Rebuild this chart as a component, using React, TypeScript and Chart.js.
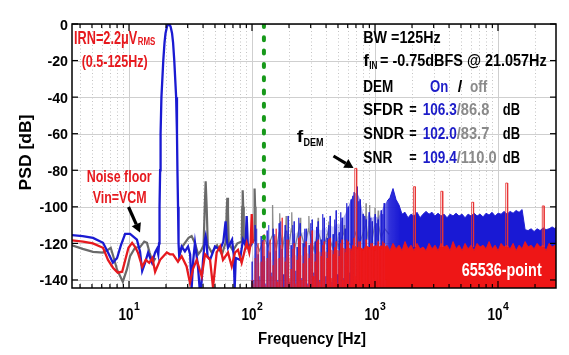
import React, { useEffect, useRef } from 'react';
import { Chart, registerables } from 'chart.js';

Chart.register(...registerables);

// ---------- axes ----------
const X_MIN = 3.44;
const X_MAX = 29620;
const Y_MIN = -144.4;
const Y_MAX = 0;

const yTickValues = [0, -20, -40, -60, -80, -100, -120, -140];
const xDecadeValues = [10, 100, 1000, 10000];
const xDecadeExponents = ['1', '2', '3', '4'];
const xMinorValues = [4, 5, 6, 7, 8, 9, 20, 30, 40, 50, 60, 70, 80, 90, 200, 300, 400, 500, 600, 700, 800, 900,
  2000, 3000, 4000, 5000, 6000, 7000, 8000, 9000, 20000];

// ---------- bandwidth marker ----------
const bandwidthHz = 125;
const bandwidthTopDb = 0;
const bandwidthBottomDb = -117;

// ---------- DEM on (blue), low-frequency trace incl. signal tone ----------
const blueLow: [number, number | null][] = [
  [3.44, -115.5], [4.2, -116], [5.1, -117], [6.15, -119.7], [6.75, -125], [7.4, -130.6], [8.0, -128], [8.6, -121],
  [9.3, -114.8], [10.2, -114.8], [11.6, -118], [12.3, -124.6], [12.8, -135], [13.5, -130.6], [14.3, -125],
  [15.4, -130.6], [16.3, -125], [16.9, -123], [17.3, -126], [17.55, -120], [17.71, -100], [17.91, -80],
  [18.06, -60], [18.35, -40], [19.0, -20], [19.45, -10], [19.82, -5], [20.35, -1.5], [20.72, -0.4], [21.06, 0],
  [21.4, -0.4], [21.79, -1.5], [22.38, -5], [22.81, -10], [23.34, -20], [24.17, -40], [24.55, -60], [24.76, -80],
  [25.04, -100], [25.28, -120], [25.6, -127], [26.8, -121.7], [28.5, -124.4], [30.2, -121.7], [31.4, -126],
  [32.3, -144.4], [33.3, -129], [34.4, -119.7], [36.4, -132.8], [37.5, -144.4], [38.6, -144.4], [40.0, -129],
  [41.4, -118], [42.0, -116], [42.7, -119], [43.5, -127], [45.6, -129], [50, -121.7], [55, -123.5], [58.5, -119],
  [61.0, -108], [62.6, -119], [63.8, -122.4], [68.8, -118], [71.0, -126], [72.3, -144.4], [73.8, -128],
  [79.8, -129], [84.5, -118], [88.5, -121], [90.5, -105], [92.5, -121], [96.4, -121.7], [100, -120],
];

// ---------- DEM off (gray) ----------
const grayLine: [number, number | null][] = [
  [3.44, -121], [4.2, -123], [5.1, -124.6], [6.15, -125], [6.75, -123.5], [7.1, -122.4], [7.45, -127], [8.0, -134.4],
  [8.9, -141], [9.6, -134.4], [10.2, -127], [11.2, -122.4], [12.3, -122], [13.3, -119], [14.0, -119.7], [14.7, -125],
  [15.6, -130.6], [16.4, -128], [20, null], [25.5, -127], [27.0, -122], [28.5, -119.7], [30.5, -117], [32.3, -116],
  [34.4, -120], [36.5, -126], [38.5, -124], [40.4, -121], [41.3, -100], [42.0, -86], [42.8, -100], [43.7, -121],
  [47, -125], [52, -121], [57, -126], [61.4, -119], [62.2, -103], [63.0, -95], [63.8, -103], [64.7, -120],
  [70, -124], [76, -120], [82.5, -119], [83.3, -100], [84.0, -91], [84.8, -100], [85.7, -119], [92, -122],
  [99, -120], [104.0, -118], [104.6, -100], [105.3, -90], [106.0, -100], [106.8, -119], [115, -124], [126, -117],
  [135, -122], [145.5, -116], [147, -99], [148.5, -116], [158, -123], [166.5, -114], [168, -103.5], [169.5, -114],
  [178, -122], [188, -112], [189.5, -105], [191, -113], [200, -121], [209, -112], [210.5, -103], [212, -113],
  [222, -123], [245, -110], [247, -106], [249, -114], [270, -122], [288, -112], [290, -105], [292, -113],
  [320, -124], [343, -112], [345, -106], [347, -114], [380, -123], [418, -113], [420, -108], [422, -116],
  [450, -122], [480, -112], [500, -122], [558, -114], [562, -110], [566, -118], [640, -121], [700, -114],
  [760, -119], [840, -110], [845, -98], [850, -110], [880, -118], [898, -108], [903, -99], [908, -108],
  [940, -119], [995, -110], [1000, -100.5], [1005, -110], [1040, -118], [1055, -108], [1062, -102], [1070, -110],
  [1120, -117], [1200, -112], [1300, -115],
];
const grayThickUntilHz = 107;

// ---------- noise floor Vin=VCM (red), low-frequency trace ----------
const redLow: [number, number | null][] = [
  [3.44, -118.4], [4.23, -119], [5.09, -120], [6.15, -122.4], [6.75, -129], [7.41, -133.3], [8.1, -136],
  [8.8, -135.5], [9.9, -122.4], [10.6, -119.7], [11.2, -121.9], [11.8, -125], [12.8, -132.8], [13.7, -129],
  [14.6, -130.6], [15.5, -128], [16.3, -135.5], [17.9, -129], [20.3, -125], [21.5, -126], [22.8, -126],
  [25.0, -130], [26.8, -127], [29.4, -132.6], [31.3, -141.5], [33.1, -134], [35.5, -129], [39.0, -138],
  [41.5, -126], [45.6, -129], [48.2, -144], [51.6, -125], [55.0, -121.7], [58.1, -129], [63.8, -125],
  [68.4, -132.6], [72.8, -125], [76.9, -123.5], [82.4, -130.6], [90.5, -119.7], [95, -125], [97.5, -120],
  [99.5, -104], [101.5, -120],
];

// ---------- dense spectrum region (100 Hz .. 1.2 kHz) ----------
const midFreqs = [100, 105.8, 111.9, 118.4, 125.2, 132.5, 140.1, 148.2, 156.8, 165.9, 175.5, 185.6, 196.3, 207.7,
  219.7, 232.4, 245.8, 260, 275.1, 291, 307.8, 325.6, 344.4, 364.3, 385.4, 407.6, 431.2, 456.1, 482.5, 510.4,
  539.9, 571.1, 604.1, 639, 676, 715.1, 756.4, 800.1, 846.4, 895.3, 947.1, 1001.8, 1059.7, 1121, 1185.8];
// envelopes of the dense floor
const blueFloorMidDb = [-128, -125, -124, -122, -122, -121, -120, -119, -118, -118, -117, -116, -116, -115, -115,
  -114, -114, -114, -113, -114, -112, -113, -112, -113, -111, -112, -110, -111, -109, -110, -107, -104, -100, -96,
  -93, -92, -96, -104, -106, -104, -106, -105, -106, -103, -99];
const redFloorMidDb = [-140, -132, -130, -131, -129, -130, -128, -130, -128, -129, -127, -128, -127, -128, -126,
  -127, -126, -127, -125, -126, -125, -126, -124, -125, -124, -125, -123, -124, -123, -124, -122, -123, -122, -123,
  -121, -122, -122, -123, -121, -122, -122, -121, -122, -121, -122];
// individual spectral lines (tops)
const blueMidDb = [-130, -110, -126, -116, -127, -113, -125, -112, -124, -109, -123, -110, -105, -121, -108, -122,
  -109, -120, -112, -121, -107, -119, -108, -118, -106, -117, -105, -115, -102, -114, -106, -112, -100, -96, -92,
  -89, -96, -104, -107, -103, -108, -104, -107, -102, -98];
const redMidDb = [-140, -128, -120, -130, -115, -128, -118, -132, -112, -128, -106, -130, -118, -134, -120, -129,
  -116, -131, -119, -128, -113, -130, -118, -127, -119, -128, -117, -126, -119, -127, -118, -125, -119, -124, -117,
  -123, -119, -124, -118, -123, -120, -124, -119, -123, -120];
const midFreqs2 = [102.9, 108.8, 115.1, 121.8, 128.8, 136.3, 144.1, 152.5, 161.3, 170.6, 180.5, 190.9, 201.9, 213.6,
  226.0, 239.0, 252.8, 267.4, 282.9, 299.3, 316.6, 334.9, 354.2, 374.7, 396.4, 419.3, 443.6, 469.2, 496.3, 525.0,
  555.4, 587.5, 621.4, 657.4, 695.4, 735.6, 778.1, 823.1, 870.7, 921.1, 974.4, 1030.7, 1090.3, 1153.4, 1220.0];
const blueMid2Db = [-140, -112, -138, -118, -142, -110, -136, -115, -140, -108, -137, -113, -141, -110, -135, -106,
  -139, -112, -142, -109, -136, -111, -140, -104, -138, -110, -141, -107, -137, -103, -139, -98, -136, -94, -140,
  -97, -138, -105, -141, -106, -137, -109, -140, -104, -138];
const redMid2Db = [-142, -122, -140, -119, -143, -124, -138, -116, -141, -121, -144, -118, -139, -123, -142, -117,
  -140, -122, -143, -120, -138, -119, -141, -121, -144, -118, -139, -122, -142, -120, -140, -118, -143, -121, -138,
  -119, -141, -122, -144, -120, -139, -121, -142, -119, -140];

// ---------- dense spectrum region (1.25 kHz .. Nyquist) ----------
const highFreqs = [1252, 1324, 1401, 1482, 1568, 1658, 1754, 1856, 1963, 2076, 2196, 2323, 2458, 2600, 2750, 2909,
  3077, 3255, 3443, 3642, 3853, 4075, 4311, 4560, 4824, 5103, 5398, 5710, 6040, 6389, 6759, 7149, 7563, 8000, 8462,
  8952, 9469, 10016, 10595, 11208, 11856, 12541, 13266, 14033, 14845, 15703, 16611, 17571, 18587, 19662, 20799,
  22001, 23273, 24619, 26042, 27548, 29141, 29620];
const blueHighDb = [-97, -95, -90, -96, -99, -104, -103, -106, -104, -105, -103, -106, -104, -102.5, -104, -103,
  -105, -103.5, -105, -104, -106, -104, -105, -103.5, -105, -104, -106, -104, -105, -103.5, -105, -104, -105.5,
  -103.5, -104.5, -103, -105, -103.5, -104, -102.5, -104, -102.5, -103.5, -102, -103, -101.5, -112.5, -113, -112,
  -113.5, -112, -113, -111.5, -112.5, -112, -111, -112, -111];
const redHighDb = [-121, -124, -120, -123, -121, -124, -119, -123, -121, -124, -120, -123, -122, -124, -120, -123,
  -121, -124, -120, -122, -121, -124, -119, -123, -121, -124, -120, -123, -121, -124, -120, -122, -121, -123, -119,
  -123, -121, -124, -120, -122, -121, -123, -120, -124, -121, -123, -119, -122, -121, -123, -120, -122, -121, -124,
  -120, -122, -121, -122];

// ---------- isolated red tones ----------
const redSpikeFreqs = [697, 2090, 3490, 6220, 11770, 23330];
const redSpikeTopDb = [-79, -89, -91.5, -97.5, -87, -99.5];
const redSpikeBaseDb = -122;

// ---------- styling ----------
const FONT = "'Liberation Sans', Arial, Helvetica, sans-serif";
const RED = '#e6191e';
const BLUE = '#1a1ad2';
const GRAY = '#6a6a6a';
const TXT_BLUE = '#1c1cc8';
const TXT_GRAY = '#8a8a8a';
const HF_START = 1250;

const toPts = (arr: [number, number | null][]) => arr.map(([x, y]) => ({ x, y }));
const zipPts = (fs: number[], vs: number[]) => {
  const n = Math.min(fs.length, vs.length);
  const out: { x: number; y: number }[] = [];
  for (let i = 0; i < n; i++) out.push({ x: fs[i], y: vs[i] });
  return out;
};
const spikePts = (pairs: { x: number; y: number }[]) => {
  const sorted = pairs.slice().sort((a, b) => a.x - b.x);
  const out: { x: number; y: number }[] = [];
  for (const p of sorted) {
    out.push({ x: p.x / 1.007, y: Y_MIN }, { x: p.x, y: p.y }, { x: p.x * 1.007, y: Y_MIN });
  }
  return out;
};
// alpha of the dense line groups grows with frequency (density of bins)
const alphaByFreq = (f: number, lo: number, hi: number) => {
  const t = Math.min(1, Math.max(0, (Math.log10(f) - 2) / (Math.log10(700) - 2)));
  return lo + (hi - lo) * t;
};

function hGradient(chart: any, stops: [number, string][]) {
  const { ctx, chartArea, scales } = chart;
  if (!chartArea || !scales.x) return stops[stops.length - 1][1];
  const g = ctx.createLinearGradient(chartArea.left, 0, chartArea.right, 0);
  const w = chartArea.right - chartArea.left;
  for (const [f, c] of stops) {
    const p = (scales.x.getPixelForValue(f) - chartArea.left) / w;
    g.addColorStop(Math.min(1, Math.max(0, p)), c);
  }
  return g;
}

function drawText(ctx: CanvasRenderingContext2D, s: string, x: number, y: number, size: number, color: string,
  width?: number, align: 'left' | 'center' | 'right' = 'left') {
  ctx.save();
  ctx.font = `bold ${size}px ${FONT}`;
  ctx.fillStyle = color;
  ctx.textBaseline = 'alphabetic';
  ctx.textAlign = 'left';
  const nat = ctx.measureText(s).width;
  const sx = width ? width / nat : 1;
  let x0 = x;
  if (align === 'center') x0 = x - (nat * sx) / 2;
  else if (align === 'right') x0 = x - nat * sx;
  ctx.translate(x0, y);
  ctx.scale(sx, 1);
  ctx.fillText(s, 0, 0);
  ctx.restore();
}

function drawArrow(ctx: CanvasRenderingContext2D, x1: number, y1: number, x2: number, y2: number) {
  const ang = Math.atan2(y2 - y1, x2 - x1);
  const head = 9;
  const hw = 5;
  const bx = x2 - head * Math.cos(ang);
  const by = y2 - head * Math.sin(ang);
  ctx.save();
  ctx.strokeStyle = '#000';
  ctx.fillStyle = '#000';
  ctx.lineWidth = 3.2;
  ctx.beginPath();
  ctx.moveTo(x1, y1);
  ctx.lineTo(bx, by);
  ctx.stroke();
  ctx.beginPath();
  ctx.moveTo(x2, y2);
  ctx.lineTo(bx + hw * Math.sin(ang), by - hw * Math.cos(ang));
  ctx.lineTo(bx - hw * Math.sin(ang), by + hw * Math.cos(ang));
  ctx.closePath();
  ctx.fill();
  ctx.restore();
}

type Seg = [string, number, number, number, string, number];
const textSegments: Seg[] = [
  ['IRN=2.2μV', 74, 44, 18, RED, 63.3],
  ['RMS', 137.7, 44.5, 10, RED, 17.6],
  ['(0.5-125Hz)', 81.7, 66.5, 16, RED, 66],
  ['Noise floor', 86.7, 181.5, 16, RED, 65],
  ['Vin=VCM', 92.7, 203.3, 16, RED, 54],
  ['BW =125Hz', 363.3, 43.3, 16, '#000', 77.4],
  ['f', 363.3, 66, 16, '#000', 5.8],
  ['IN', 369.3, 68.5, 10, '#000', 8.2],
  ['= -0.75dBFS @ 21.057Hz', 380, 66, 16, '#000', 166.7],
  ['DEM', 363.3, 91.7, 16, '#000', 30],
  ['On', 430, 91.7, 16, TXT_BLUE, 18.3],
  ['/', 457.7, 91.7, 16, '#000', 4.5],
  ['off', 470, 91.7, 16, TXT_GRAY, 17.3],
  ['SFDR', 363.3, 115, 16, '#000', 40],
  ['=', 409.3, 115, 16, '#000', 7.4],
  ['106.3', 422.7, 115, 16, TXT_BLUE, 34],
  ['/86.8', 456.7, 115, 16, TXT_GRAY, 32.6],
  ['dB', 502.7, 115, 16, '#000', 17.3],
  ['SNDR', 363.3, 139.3, 16, '#000', 40.7],
  ['=', 409.3, 139.3, 16, '#000', 7.4],
  ['102.0', 422.7, 139.3, 16, TXT_BLUE, 34],
  ['/83.7', 456.7, 139.3, 16, TXT_GRAY, 32.6],
  ['dB', 502.7, 139.3, 16, '#000', 17.3],
  ['SNR', 363.3, 163.3, 16, '#000', 29],
  ['=', 409.3, 163.3, 16, '#000', 7.4],
  ['109.4', 422.7, 163.3, 16, TXT_BLUE, 34],
  ['/110.0', 456.7, 163.3, 16, TXT_GRAY, 40],
  ['dB', 502.7, 163.3, 16, '#000', 17.3],
  ['f', 296.7, 141.7, 16, '#000', 6.5],
  ['DEM', 303.5, 145.5, 11, '#000', 20],
];

const decorPlugin = {
  id: 'decor',
  beforeDatasetsDraw(chart: any) {
    const { ctx, chartArea: a, scales } = chart;
    const x = scales.x;
    const y = scales.y;
    ctx.save();
    ctx.beginPath();
    ctx.rect(a.left, a.top, a.right - a.left, a.bottom - a.top);
    ctx.clip();
    ctx.lineWidth = 1;
    ctx.strokeStyle = '#c4c4c4';
    ctx.setLineDash([1, 2.5]);
    for (const v of xMinorValues) {
      const px = Math.round(x.getPixelForValue(v)) + 0.5;
      ctx.beginPath();
      ctx.moveTo(px, a.top);
      ctx.lineTo(px, a.bottom);
      ctx.stroke();
    }
    ctx.setLineDash([]);
    ctx.strokeStyle = '#cfcfcf';
    for (const v of xDecadeValues) {
      const px = Math.round(x.getPixelForValue(v)) + 0.5;
      ctx.beginPath();
      ctx.moveTo(px, a.top);
      ctx.lineTo(px, a.bottom);
      ctx.stroke();
    }
    for (const v of yTickValues) {
      const py = Math.round(y.getPixelForValue(v)) + 0.5;
      ctx.beginPath();
      ctx.moveTo(a.left, py);
      ctx.lineTo(a.right, py);
      ctx.stroke();
    }
    ctx.restore();
  },
  afterDatasetsDraw(chart: any) {
    const { ctx, chartArea: a, scales } = chart;
    const x = scales.x;
    const y = scales.y;
    ctx.save();
    ctx.strokeStyle = '#000';
    ctx.lineWidth = 1.5;
    ctx.strokeRect(a.left, a.top, a.right - a.left, a.bottom - a.top);
    ctx.lineWidth = 1.2;
    const tick = (x1: number, y1: number, x2: number, y2: number) => {
      ctx.beginPath();
      ctx.moveTo(x1, y1);
      ctx.lineTo(x2, y2);
      ctx.stroke();
    };
    for (const v of xMinorValues) {
      const px = x.getPixelForValue(v);
      tick(px, a.bottom, px, a.bottom - 4);
      tick(px, a.top, px, a.top + 4);
    }
    for (const v of xDecadeValues) {
      const px = x.getPixelForValue(v);
      tick(px, a.bottom, px, a.bottom - 7);
      tick(px, a.top, px, a.top + 7);
    }
    for (const v of yTickValues) {
      const py = y.getPixelForValue(v);
      tick(a.left, py, a.left + 6, py);
      tick(a.right, py, a.right - 6, py);
    }
    ctx.restore();

    for (const v of yTickValues) {
      const py = y.getPixelForValue(v);
      ctx.save();
      ctx.font = `bold 15px ${FONT}`;
      const w = ctx.measureText(String(v)).width * 0.95;
      ctx.restore();
      drawText(ctx, String(v), a.left - 4, py + 5.5, 15, '#000', w, 'right');
    }
    xDecadeValues.forEach((v, i) => {
      const px = x.getPixelForValue(v);
      ctx.save();
      ctx.font = `bold 16px ${FONT}`;
      const w1 = ctx.measureText('10').width * 0.84;
      ctx.font = `bold 11px ${FONT}`;
      const w2 = ctx.measureText(xDecadeExponents[i]).width * 0.95;
      ctx.restore();
      const left = px - (w1 + w2) / 2;
      drawText(ctx, '10', left, 320, 16, '#000', w1);
      drawText(ctx, xDecadeExponents[i], left + w1 + 0.5, 310, 11, '#000', w2);
    });
    drawText(ctx, 'Frequency [Hz]', 312, 344, 16, '#000', 108, 'center');
    ctx.save();
    ctx.translate(30.5, 152.5);
    ctx.rotate(-Math.PI / 2);
    drawText(ctx, 'PSD [dB]', 0, 0, 17, '#000', 76, 'center');
    ctx.restore();

    for (const [s, tx, ty, size, color, w] of textSegments) drawText(ctx, s, tx, ty, size, color, w);
    drawText(ctx, '65536-point', 461.7, 276, 18, '#ffffff', 80);
    drawArrow(ctx, 128.5, 207, 140, 232.5);
    drawArrow(ctx, 333.5, 156, 353.5, 168);
  },
};

export default function App() {
  const canvasRef = useRef<HTMLCanvasElement | null>(null);

  useEffect(() => {
    if (!canvasRef.current) return;
    const toneData: { x: number; y: number | null }[] = [];
    redSpikeFreqs.forEach((f, i) => {
      toneData.push(
        { x: f / 1.018, y: redSpikeBaseDb },
        { x: f / 1.018, y: redSpikeTopDb[i] },
        { x: f * 1.018, y: redSpikeTopDb[i] },
        { x: f * 1.018, y: redSpikeBaseDb },
        { x: f * 1.03, y: null },
      );
    });
    const bandFreqs = midFreqs.concat(highFreqs);
    const grayPts = toPts(grayLine);
    const grayThick = grayPts.filter((p) => p.x <= grayThickUntilHz);
    const grayThin = grayPts.filter((p) => p.x >= grayThickUntilHz - 1);
    const redLines = spikePts(zipPts(midFreqs, redMidDb).concat(zipPts(midFreqs2, redMid2Db)));
    const blueLines = spikePts(zipPts(midFreqs, blueMidDb).concat(zipPts(midFreqs2, blueMid2Db)));
    const hfOnly = (color: string) => ({
      borderColor: (c: any) => (c.p0.parsed.x >= HF_START ? color : 'rgba(0,0,0,0)'),
    });

    const chart = new Chart(canvasRef.current, {
      type: 'line',
      data: {
        datasets: [
          {
            label: 'BW',
            data: [{ x: bandwidthHz, y: bandwidthTopDb }, { x: bandwidthHz, y: bandwidthBottomDb }],
            borderColor: '#17991a',
            borderWidth: 4,
            borderDash: [3, 10.3],
            borderCapStyle: 'round',
            order: 0,
          },
          {
            label: 'red tones',
            data: toneData,
            borderColor: 'rgba(232,50,50,0.85)',
            borderWidth: 1,
            spanGaps: false,
            order: 1,
          },
          {
            label: 'noise floor low',
            data: toPts(redLow),
            borderColor: RED,
            borderWidth: 2.3,
            order: 2,
          },
          {
            label: 'noise floor lines',
            data: redLines,
            borderColor: RED,
            borderWidth: 1,
            segment: {
              borderColor: (c: any) => `rgba(236,26,30,${alphaByFreq(c.p0.parsed.x, 0.3, 0.85).toFixed(2)})`,
            },
            order: 3,
          },
          {
            label: 'noise floor band',
            data: zipPts(bandFreqs, redFloorMidDb.concat(redHighDb)),
            borderWidth: 1,
            segment: hfOnly('rgba(232,24,28,0.95)'),
            fill: 'start',
            backgroundColor: (c: any) => hGradient(c.chart, [
              [100, 'rgba(240,70,70,0.12)'], [300, 'rgba(238,45,45,0.26)'], [520, 'rgba(236,26,26,0.6)'],
              [760, 'rgba(238,22,22,1)'], [30000, 'rgba(238,22,22,1)'],
            ]),
            order: 4,
          },
          {
            label: 'DEM on low',
            data: toPts(blueLow),
            borderColor: BLUE,
            borderWidth: 2.3,
            order: 5,
          },
          {
            label: 'DEM on lines',
            data: blueLines,
            borderColor: BLUE,
            borderWidth: 1,
            segment: {
              borderColor: (c: any) => `rgba(30,30,210,${alphaByFreq(c.p0.parsed.x, 0.55, 0.8).toFixed(2)})`,
            },
            order: 6,
          },
          {
            label: 'DEM on band',
            data: zipPts(bandFreqs, blueFloorMidDb.concat(blueHighDb)),
            borderWidth: 1,
            segment: hfOnly('rgba(26,26,210,0.95)'),
            fill: 'start',
            backgroundColor: (c: any) => hGradient(c.chart, [
              [100, 'rgba(70,70,220,0.12)'], [480, 'rgba(60,60,215,0.25)'], [620, 'rgba(50,50,215,0.55)'],
              [760, 'rgba(50,50,215,0.55)'], [860, 'rgba(80,80,215,0.3)'], [1150, 'rgba(40,40,215,0.45)'],
              [1300, 'rgba(28,28,215,0.9)'], [1600, 'rgba(25,25,212,1)'], [30000, 'rgba(25,25,212,1)'],
            ]),
            order: 7,
          },
          {
            label: 'DEM off lines',
            data: grayThin,
            borderColor: 'rgba(120,120,120,0.85)',
            borderWidth: 1.3,
            spanGaps: false,
            order: 8,
          },
          {
            label: 'DEM off',
            data: grayThick,
            borderColor: GRAY,
            borderWidth: 2.2,
            spanGaps: false,
            order: 9,
          },
        ],
      },
      options: {
        animation: false,
        responsive: false,
        events: [],
        layout: { padding: { left: 72, top: 24, right: 13, bottom: 67 } },
        elements: { point: { radius: 0 }, line: { tension: 0 } },
        scales: {
          x: { type: 'logarithmic', min: X_MIN, max: X_MAX, display: false },
          y: { type: 'linear', min: Y_MIN, max: Y_MAX, display: false },
        },
        plugins: { legend: { display: false }, tooltip: { enabled: false } },
      },
      plugins: [decorPlugin],
    } as any);
    return () => chart.destroy();
  }, []);

  return (
    <div style={{ position: 'absolute', left: 0, top: 0, width: 569, height: 355, background: '#fff' }}>
      <canvas ref={canvasRef} width={569} height={355} style={{ display: 'block' }} />
    </div>
  );
}
